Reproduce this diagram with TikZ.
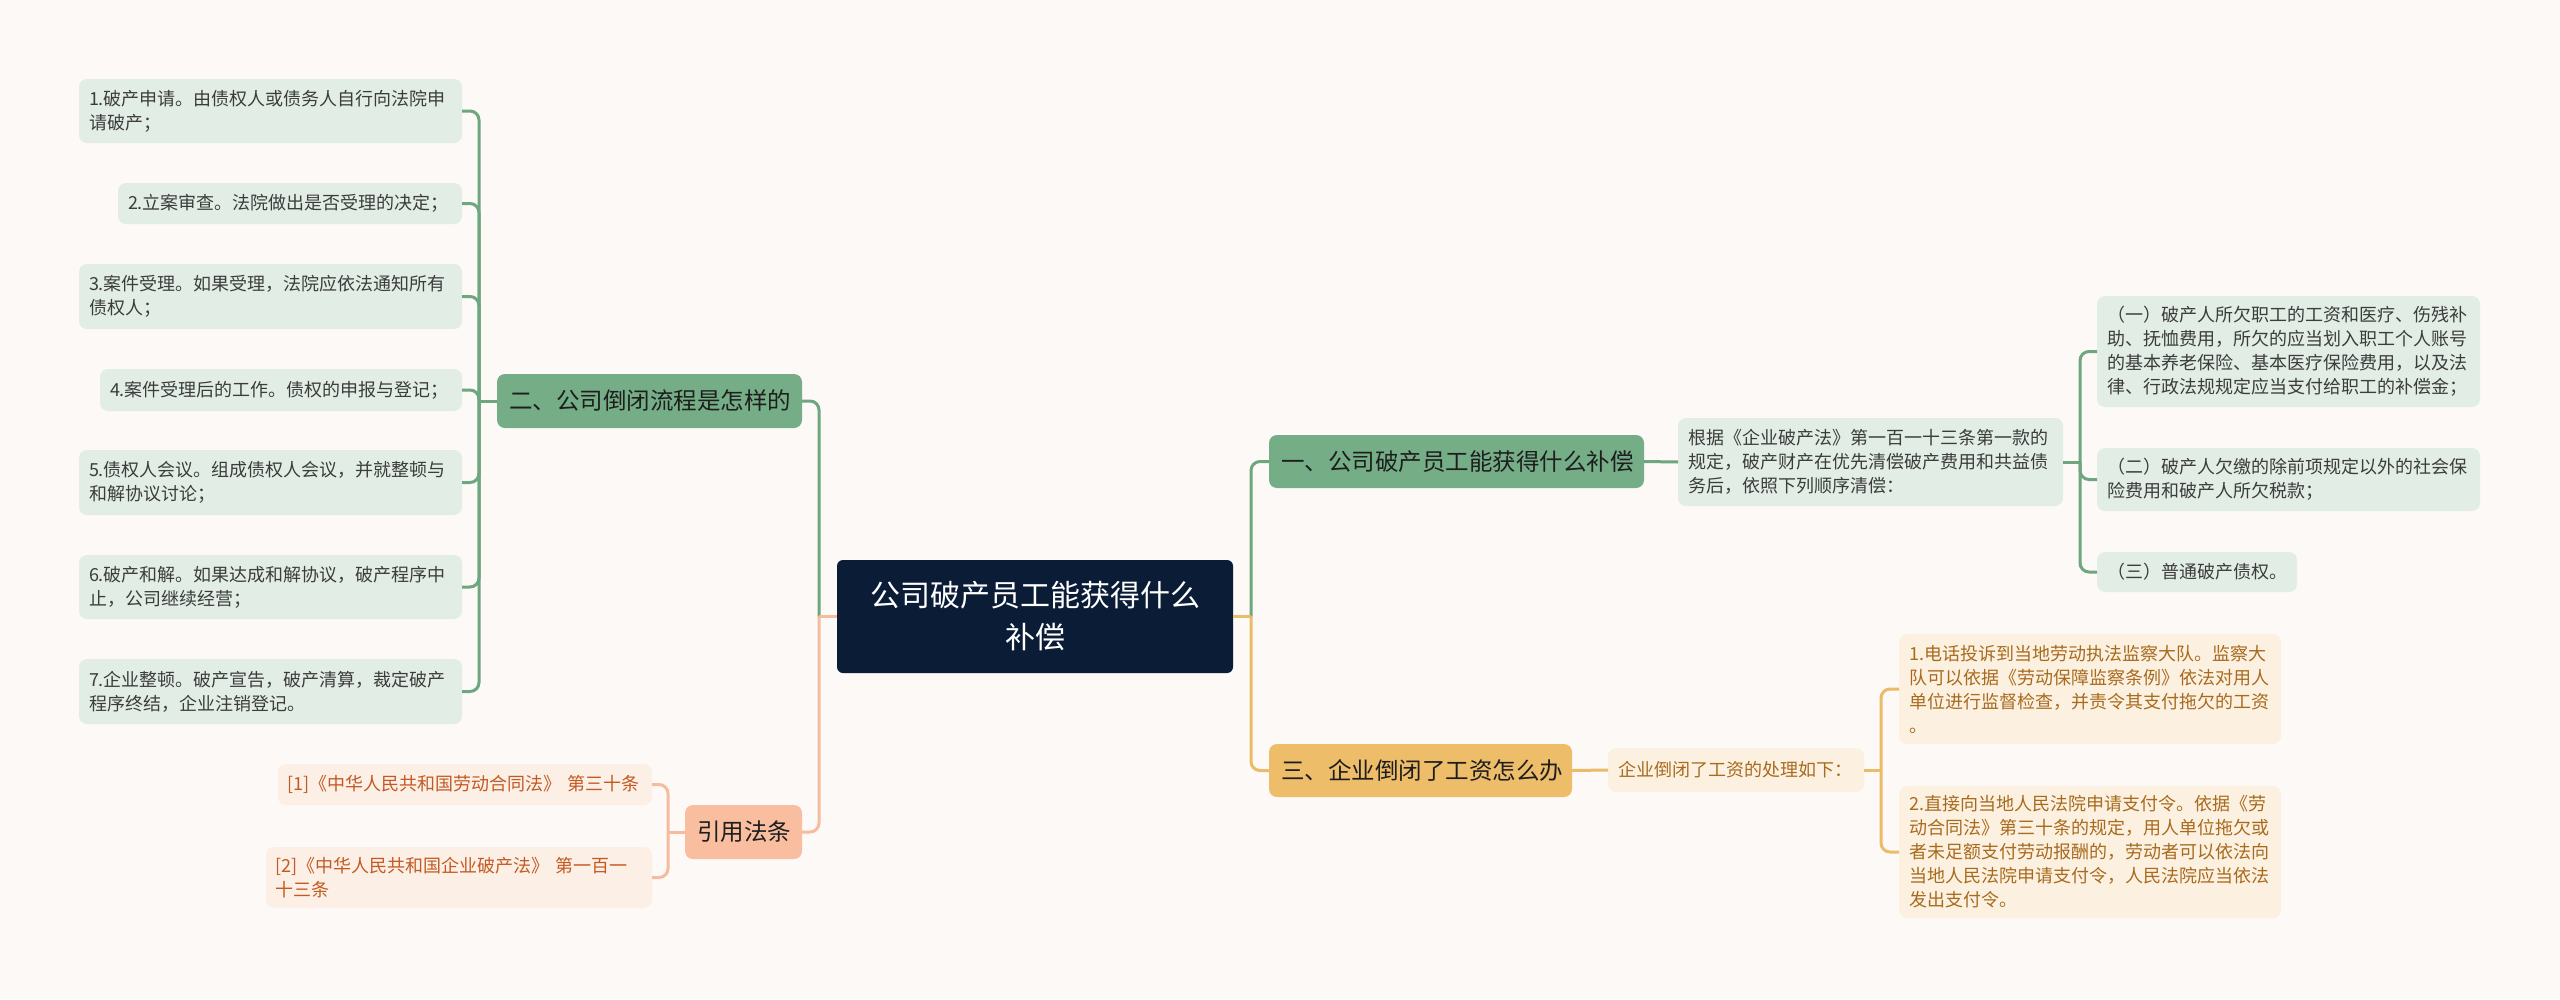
\documentclass[tikz,border=0pt]{standalone}
\usepackage{fontspec}
\setmainfont{Noto Sans CJK SC}
\definecolor{bgc}{HTML}{FCF9F7}
\definecolor{gfill}{HTML}{75AE86}
\definecolor{gline}{HTML}{6EA77F}
\definecolor{gleaf}{HTML}{E2EEE5}
\definecolor{pfill}{HTML}{F9BE9F}
\definecolor{pline}{HTML}{F6BC9E}
\definecolor{pleaf}{HTML}{FCEFE6}
\definecolor{ptext}{HTML}{C35A22}
\definecolor{yfill}{HTML}{EEBD6A}
\definecolor{yline}{HTML}{ECBB68}
\definecolor{yleaf}{HTML}{FCF1E1}
\definecolor{ytext}{HTML}{A86B1E}
\definecolor{cfill}{HTML}{0B1D36}
\definecolor{ltext}{HTML}{3C3C3C}
\definecolor{btext}{HTML}{1E1E1E}
\begin{document}
\begin{tikzpicture}[x=1pt,y=-1pt,
  box/.style={anchor=north west, rounded corners=8pt, inner ysep=0pt, outer sep=0pt},
  leaf/.style={box, inner xsep=10pt, align=left, font=\fontsize{18}{24}\selectfont},
  gleafn/.style={leaf, fill=gleaf, text=ltext},
  pleafn/.style={leaf, fill=pleaf, text=ptext, inner xsep=9pt},
  yleafn/.style={leaf, fill=yleaf, text=ytext},
  branch/.style={box, inner xsep=12pt, align=center, text=btext, font=\fontsize{23.5}{28}\selectfont},
  conn/.style={line width=3pt},
  rc/.style={conn, rounded corners=9pt}
]
\fill[bgc] (0,0) rectangle (2560,999);
\useasboundingbox (0,0) rectangle (2560,999);

% center
\node[box, fill=cfill, text=white, align=center, rounded corners=6pt, text width=396pt, inner xsep=0pt, minimum height=113pt,
  font=\fontsize{30}{42}\selectfont] (c) at (837,560) {公司破产员工能获得什么\\补偿};

% branches
\node[branch, fill=gfill, text width=281pt, minimum height=54pt] (n2) at (497,374) {二、公司倒闭流程是怎样的};
\node[branch, fill=gfill, text width=351pt, minimum height=53pt] (n1) at (1269,435) {一、公司破产员工能获得什么补偿};
\node[branch, fill=yfill, text width=279pt, minimum height=53pt] (n3) at (1269,744) {三、企业倒闭了工资怎么办};
\node[branch, fill=pfill, text width=93pt, minimum height=54pt] (nc) at (685,805) {引用法条};

% left green leaves
\node[gleafn, text width=363pt, minimum height=64pt] (L1) at (79,79) {1.破产申请。由债权人或债务人自行向法院申\\请破产；};
\node[gleafn, text width=324pt, minimum height=41pt] (L2) at (118,183) {2.立案审查。法院做出是否受理的决定；};
\node[gleafn, text width=363pt, minimum height=65pt] (L3) at (79,264) {3.案件受理。如果受理，法院应依法通知所有\\债权人；};
\node[gleafn, text width=342pt, minimum height=42pt] (L4) at (100,369) {4.案件受理后的工作。债权的申报与登记；};
\node[gleafn, text width=363pt, minimum height=65pt] (L5) at (79,450) {5.债权人会议。组成债权人会议，并就整顿与\\和解协议讨论；};
\node[gleafn, text width=363pt, minimum height=64pt] (L6) at (79,555) {6.破产和解。如果达成和解协议，破产程序中\\止，公司继续经营；};
\node[gleafn, text width=363pt, minimum height=65pt] (L7) at (79,659) {7.企业整顿。破产宣告，破产清算，裁定破产\\程序终结，企业注销登记。};

% citations
\node[pleafn, text width=356pt, minimum height=41pt] (C1) at (278,764) {[1]《中华人民共和国劳动合同法》~第三十条};
\node[pleafn, text width=368pt, minimum height=61pt] (C2) at (266,847) {[2]《中华人民共和国企业破产法》~第一百一\\十三条};

% right green
\node[gleafn, text width=365pt, minimum height=88pt] (t1) at (1678,418) {根据《企业破产法》第一百一十三条第一款的\\规定，破产财产在优先清偿破产费用和共益债\\务后，依照下列顺序清偿：};
\node[gleafn, text width=363pt, minimum height=111pt] (R1) at (2097,296) {（一）破产人所欠职工的工资和医疗、伤残补\\助、抚恤费用，所欠的应当划入职工个人账号\\的基本养老保险、基本医疗保险费用，以及法\\律、行政法规规定应当支付给职工的补偿金；};
\node[gleafn, text width=363pt, minimum height=63pt] (R2) at (2097,448) {（二）破产人欠缴的除前项规定以外的社会保\\险费用和破产人所欠税款；};
\node[gleafn, text width=180pt, minimum height=40pt] (R3) at (2097,552) {（三）普通破产债权。};

% right yellow
\node[yleafn, text width=236pt, minimum height=44pt] (t3) at (1608,748) {企业倒闭了工资的处理如下：};
\node[yleafn, text width=362pt, minimum height=110pt] (Y1) at (1899,634) {1.电话投诉到当地劳动执法监察大队。监察大\\队可以依据《劳动保障监察条例》依法对用人\\单位进行监督检查，并责令其支付拖欠的工资\\。};
\node[yleafn, text width=362pt, minimum height=132pt] (Y2) at (1899,786) {2.直接向当地人民法院申请支付令。依据《劳\\动合同法》第三十条的规定，用人单位拖欠或\\者未足额支付劳动报酬的，劳动者可以依法向\\当地人民法院申请支付令，人民法院应当依法\\发出支付令。};

% junctions
\coordinate (jl) at (819,616.5);
\coordinate (jr) at (1251,616.5);
\coordinate (j2) at (479,401);
\coordinate (jc) at (668,832);
\coordinate (jt1) at (2080,462);
\coordinate (jt3) at (1881,770);

% green connectors
\draw[rc, gline] (jl) |- (n2.east);
\draw[conn, gline] (n2.west) -- (j2);
\foreach \n in {L1,L2,L3,L4,L5,L6,L7} {\draw[rc, gline] (j2) |- (\n.east);}
\draw[rc, gline] (jr) |- (n1.west);
\draw[conn, gline] (n1.east) -- (t1.west);
\draw[conn, gline] (t1.east) -- (jt1);
\foreach \n in {R1,R2,R3} {\draw[rc, gline] (jt1) |- (\n.west);}

% peach connectors
\draw[conn, pline] (c.west) -- (jl);
\draw[rc, pline] (jl) |- (nc.east);
\draw[conn, pline] (nc.west) -- (jc);
\foreach \n in {C1,C2} {\draw[rc, pline] (jc) |- (\n.east);}

% yellow connectors
\draw[conn, yline] (c.east) -- (jr);
\draw[rc, yline] (jr) |- (n3.west);
\draw[conn, yline] (n3.east) -- (t3.west);
\draw[conn, yline] (t3.east) -- (jt3);
\foreach \n in {Y1,Y2} {\draw[rc, yline] (jt3) |- (\n.west);}
\end{tikzpicture}
\end{document}
